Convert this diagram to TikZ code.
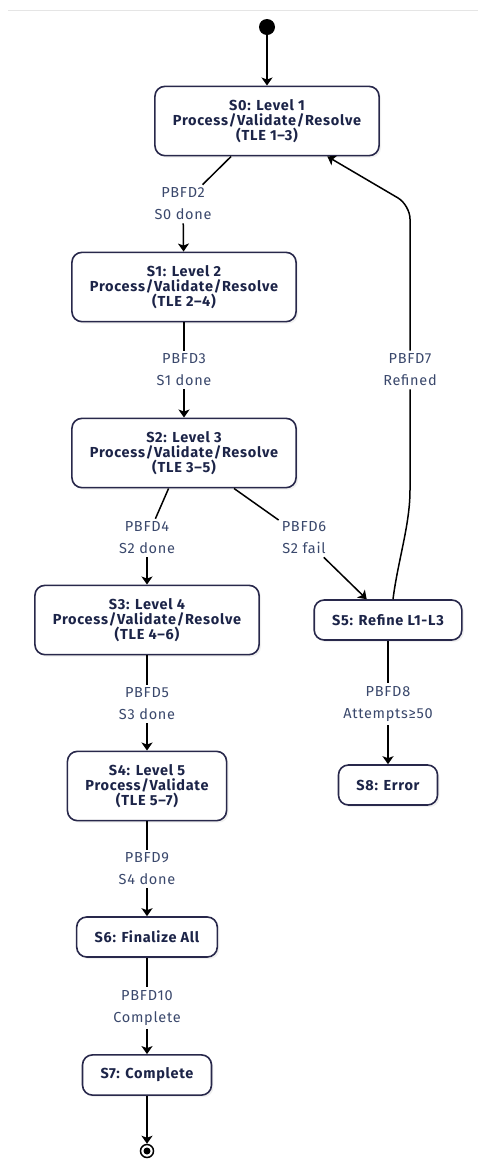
\documentclass[tikz,border=0pt]{standalone}
\usepackage{fontspec}
\setmainfont{Fira Sans}[LetterSpace=5]
\usetikzlibrary{arrows.meta,shadows}
\definecolor{boxline}{RGB}{40,40,75}
\definecolor{boxtext}{RGB}{28,36,72}
\definecolor{edgetext}{RGB}{58,72,108}

\begin{document}
\begin{tikzpicture}[x=1pt,y=-1pt,
	state/.style={draw=boxline, line width=1.6pt, rounded corners=10pt, fill=white,
		align=center, font=\fontsize{14.5}{15}\selectfont\bfseries, text=boxtext,
		inner xsep=18pt, inner ysep=13pt, minimum height=40pt,
		drop shadow={opacity=0.12, shadow xshift=2pt, shadow yshift=-2pt}},
	guard/.style={align=center, font=\fontsize{14.5}{22}\selectfont, text=edgetext,
		fill=white, inner sep=3pt},
	link/.style={line width=1.5pt},
	flow/.style={link, -{Stealth[length=8pt,width=11pt,inset=2pt]}}]
	\useasboundingbox (0,0) rectangle (478,1160);
	\draw[black!10, line width=0.8pt] (8,10) -- (478,10);

	\node[circle, fill, inner sep=0pt, minimum size=16pt] (start) at (267,27) {};
	\node[state] (s0) at (267,121) {S0: Level 1\\Process/Validate/Resolve\\(TLE 1--3)};
	\node[state] (s1) at (184,287) {S1: Level 2\\Process/Validate/Resolve\\(TLE 2--4)};
	\node[state] (s2) at (184,453) {S2: Level 3\\Process/Validate/Resolve\\(TLE 3--5)};
	\node[state] (s3) at (147,620) {S3: Level 4\\Process/Validate/Resolve\\(TLE 4--6)};
	\node[state] (s5) at (388,620) {S5: Refine L1-L3};
	\node[state] (s8) at (388,785) {S8: Error};
	\node[state] (s4) at (147,786) {S4: Level 5\\Process/Validate\\(TLE 5--7)};
	\node[state] (s6) at (147,937) {S6: Finalize All};
	\node[state] (s7) at (147,1075) {S7: Complete};
	\node[circle, draw, line width=1.5pt, inner sep=0pt, minimum size=13pt] (stop) at (147,1151) {};
	\node[circle, fill, inner sep=0pt, minimum size=7pt] (stopdot) at (stop) {};

	\node[guard] (l2) at (183,204) {PBFD2\\S0 done};
	\node[guard] (l3) at (184,370) {PBFD3\\S1 done};
	\node[guard] (l4) at (147,538) {PBFD4\\S2 done};
	\node[guard] (l6) at (304,538) {PBFD6\\S2 fail};
	\node[guard] (l7) at (410,370) {PBFD7\\Refined};
	\node[guard] (l5) at (147,704) {PBFD5\\S3 done};
	\node[guard] (l8) at (388,704) {PBFD8\\Attempts≥50};
	\node[guard] (l9) at (147,869) {PBFD9\\S4 done};
	\node[guard] (l10) at (147,1008) {PBFD10\\Complete};

	\coordinate (bendlow) at (410,490);
	\coordinate (bendhigh) at (410,205);

	\draw[flow] (start) -- (s0);
	\draw[link] (s0) -- (l2);
	\draw[flow] (l2) -- (s1);
	\draw[link] (s1) -- (l3);
	\draw[flow] (l3) -- (s2);
	\draw[link] (s2) -- (l4);
	\draw[flow] (l4) -- (s3);
	\draw[link] (s2) -- (l6);
	\draw[flow] (l6) -- (s5);
	\draw[link] ([xshift=5pt]s5.north) .. controls (398,560) and (410,525) .. (bendlow) -- (l7);
	\draw[flow, rounded corners=14pt] (l7) -- (bendhigh) -- (s0);
	\draw[link] (s5) -- (l8);
	\draw[flow] (l8) -- (s8);
	\draw[link] (s3) -- (l5);
	\draw[flow] (l5) -- (s4);
	\draw[link] (s4) -- (l9);
	\draw[flow] (l9) -- (s6);
	\draw[link] (s6) -- (l10);
	\draw[flow] (l10) -- (s7);
	\draw[flow] (s7) -- (stop);
\end{tikzpicture}
\end{document}
